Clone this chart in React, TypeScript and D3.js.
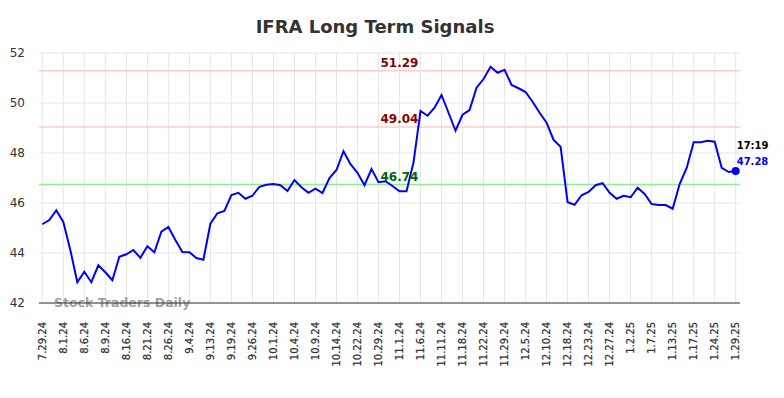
import React from "react";
import * as d3 from "d3";

const title = "IFRA Long Term Signals";
const values: number[] = [
  45.15, 45.32, 45.71, 45.24, 44.12, 42.83, 43.25, 42.83, 43.51, 43.23,
  42.91, 43.85, 43.95, 44.12, 43.81, 44.27, 44.03, 44.85, 45.04, 44.52,
  44.04, 44.03, 43.8, 43.73, 45.17, 45.59, 45.68, 46.32, 46.41, 46.17,
  46.29, 46.65, 46.73, 46.76, 46.71, 46.48, 46.92, 46.63, 46.41, 46.57,
  46.4, 47.0, 47.32, 48.07, 47.55, 47.21, 46.71, 47.36, 46.83, 46.87,
  46.68, 46.47, 46.47, 47.62, 49.68, 49.49, 49.81, 50.32, 49.61, 48.89,
  49.53, 49.72, 50.61, 50.96, 51.45, 51.21, 51.33, 50.72, 50.59, 50.44,
  50.05, 49.61, 49.21, 48.52, 48.25, 46.03, 45.93, 46.31, 46.44, 46.71,
  46.79, 46.41, 46.17, 46.29, 46.23, 46.61, 46.36, 45.96, 45.92, 45.92,
  45.77, 46.76, 47.4, 48.43, 48.43, 48.49, 48.45, 47.41, 47.24, 47.28,
];
const tickLabels: string[] = [
  "7.29.24", "8.1.24", "8.6.24", "8.9.24", "8.16.24", "8.21.24", "8.26.24",
  "9.4.24", "9.13.24", "9.19.24", "9.26.24", "10.1.24", "10.4.24", "10.9.24",
  "10.14.24", "10.22.24", "10.29.24", "11.1.24", "11.6.24", "11.11.24",
  "11.18.24", "11.22.24", "11.29.24", "12.5.24", "12.10.24", "12.18.24",
  "12.23.24", "12.27.24", "1.2.25", "1.7.25", "1.13.25", "1.17.25", "1.24.25",
  "1.29.25",
];
const yTicks: number[] = [42, 44, 46, 48, 50, 52];
const redLevels: number[] = [51.29, 49.04];
const greenLevels: number[] = [46.74];
const lastTime = "17:19";

export default function App() {
  const W = 784;
  const H = 398;
  const left = 39;
  const right = 740;
  const x = d3.scaleLinear().domain([0, values.length - 1]).range([42.3, 735.7]);
  const y = d3.scaleLinear().domain([42, 52]).range([303, 53]);
  const line = d3
    .line<number>()
    .x((_, i) => x(i))
    .y((d) => y(d));
  const tickStep = 3;
  const labelIdx = 51;
  const lastI = values.length - 1;
  const lastV = values[lastI];
  const font = "'DejaVu Sans', sans-serif";

  return (
    <svg
      width={W}
      height={H}
      style={{ position: "absolute", left: 0, top: 0, background: "#fff" }}
      fontFamily={font}
    >
      <text
        x={375}
        y={33}
        textAnchor="middle"
        fontSize={18}
        fontWeight="bold"
        fill="#333"
      >
        {title}
      </text>
      {/* horizontal grid */}
      {yTicks.map((t) => (
        <line key={"h" + t} x1={left} x2={right} y1={y(t)} y2={y(t)} stroke="#e6e6e6" strokeWidth={1} />
      ))}
      {/* vertical grid */}
      {tickLabels.map((lab, k) => (
        <line
          key={"v" + lab}
          x1={x(k * tickStep)}
          x2={x(k * tickStep)}
          y1={y(52)}
          y2={y(42)}
          stroke="#e6e6e6"
          strokeWidth={1}
        />
      ))}
      {/* y labels */}
      {yTicks.map((t) => (
        <text key={"yl" + t} x={25} y={y(t)} dy="0.35em" textAnchor="end" fontSize={12} fill="#333">
          {t}
        </text>
      ))}
      {/* x labels */}
      {tickLabels.map((lab, k) => (
        <text
          key={"xl" + lab}
          transform={`translate(${x(k * tickStep)},322) rotate(-90)`}
          dy="0.35em"
          textAnchor="end"
          fontSize={10}
          fill="#333"
          stroke="#333"
          strokeWidth={0.25}
        >
          {lab}
        </text>
      ))}
      {/* level lines */}
      {redLevels.map((v) => (
        <line key={"r" + v} x1={left} x2={right} y1={y(v)} y2={y(v)} stroke="#ffcccc" strokeWidth={1.5} />
      ))}
      {greenLevels.map((v) => (
        <line key={"g" + v} x1={left} x2={right} y1={y(v)} y2={y(v)} stroke="#90ee90" strokeWidth={1.5} />
      ))}
      {/* watermark */}
      <text x={54} y={307} fontSize={12.5} fontWeight="bold" fill="#999" opacity={0.9}>
        Stock Traders Daily
      </text>
      {/* axis line */}
      <line x1={left} x2={right} y1={303} y2={303} stroke="#333" strokeWidth={1} />
      {/* price line */}
      <path d={line(values) || ""} fill="none" stroke="#0000ff" strokeWidth={2} />
      <circle cx={x(lastI)} cy={y(lastV)} r={4} fill="#0000ff" />
      {/* level labels */}
      {redLevels.map((v) => (
        <text key={"rl" + v} x={x(labelIdx)} y={y(v) - 4} textAnchor="middle" fontSize={12} fontWeight="bold" fill="#8b0000">
          {v.toFixed(2)}
        </text>
      ))}
      {greenLevels.map((v) => (
        <text key={"gl" + v} x={x(labelIdx)} y={y(v) - 4} textAnchor="middle" fontSize={12} fontWeight="bold" fill="#006400">
          {v.toFixed(2)}
        </text>
      ))}
      {/* last value labels */}
      <text x={x(lastI) + 1} y={y(lastV) - 22} fontSize={10} fontWeight="bold" fill="#000">
        {lastTime}
      </text>
      <text x={x(lastI) + 1} y={y(lastV) - 6.5} fontSize={10} fontWeight="bold" fill="#0000ff">
        {lastV.toFixed(2)}
      </text>
    </svg>
  );
}
